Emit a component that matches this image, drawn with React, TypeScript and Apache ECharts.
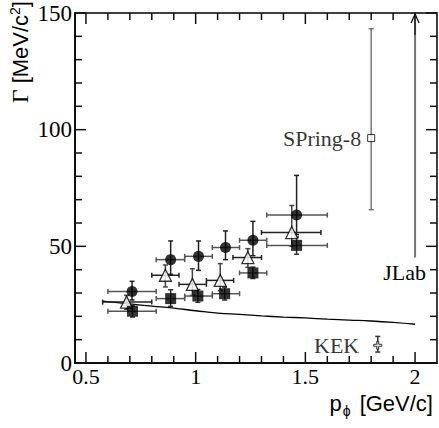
import React, { useEffect, useRef } from "react";
import * as echarts from "echarts";

// Tick values (GeV/c and MeV/c^2)
const xMajorTicks = [0.5, 1, 1.5, 2];
const xMajorLabels = ["0.5", "1", "1.5", "2"];
const xMinorTicks = [0.6, 0.7, 0.8, 0.9, 1.1, 1.2, 1.3, 1.4, 1.6, 1.7, 1.8, 1.9];
const yMajorTicks = [0, 50, 100, 150];
const yMajorLabels = ["0", "50", "100", "150"];
const yMinorTicks = [10, 20, 30, 40, 60, 70, 80, 90, 110, 120, 130, 140];

// Filled circles
const circP = [0.71, 0.886, 1.013, 1.136, 1.261, 1.46];
const circG = [30.6, 44.3, 45.7, 49.5, 52.6, 63.4];
const circPLo = [0.6, 0.82, 0.95, 1.076, 1.2, 1.324];
const circPHi = [0.82, 0.95, 1.076, 1.2, 1.324, 1.6];
const circGLo = [27, 38, 39.7, 44.3, 46, 55];
const circGHi = [35, 52.3, 52.3, 56.6, 60.7, 80.4];

// Open triangles
const triP = [0.685, 0.862, 0.985, 1.112, 1.238, 1.438];
const triG = [26.1, 37.6, 33.7, 35.4, 45.2, 55.9];
const triPLo = [0.576, 0.8, 0.924, 1.049, 1.17, 1.3];
const triPHi = [0.8, 0.924, 1.049, 1.173, 1.3, 1.571];
const triGLo = [23, 32.6, 29, 31, 41, 50];
const triGHi = [29, 42, 40.4, 42.6, 49, 67.5];

// Filled squares
const sqP = [0.712, 0.886, 1.01, 1.132, 1.261, 1.46];
const sqG = [22.2, 27.6, 28.7, 29.7, 38.6, 50.4];
const sqPLo = [0.6, 0.82, 0.95, 1.076, 1.2, 1.324];
const sqPHi = [0.82, 0.95, 1.076, 1.2, 1.324, 1.6];
const sqGLo = [19.7, 24.3, 26, 27, 36.2, 46.6];
const sqGHi = [24.5, 31.4, 31.5, 32.5, 41.1, 54];

// Theory curve
const curveP = [0.575, 0.7, 0.8, 0.9, 1.0, 1.1, 1.2, 1.3, 1.4, 1.5, 1.6, 1.7, 1.8, 1.9, 2.0];
const curveG = [26.5, 25.3, 24.4, 23.5, 22.4, 21.4, 20.8, 20.2, 19.7, 19.3, 18.8, 18.4, 18.0, 17.4, 16.6];

// SPring-8
const sp8P = [1.8];
const sp8G = [96.4];
const sp8GLo = [65.7];
const sp8GHi = [143.3];

// KEK
const kekP = [1.83];
const kekG = [7.6];
const kekGLo = [4.7];
const kekGHi = [11.4];

// JLab lower limit arrow
const jlabP = [2.0];
const jlabGFrom = [45.2];
const jlabGTo = [150];
const jlabLabelPos = [[1.952, 38.6]];

const X_MIN = 0.45, X_MAX = 2.1, Y_MIN = 0, Y_MAX = 150;
const SERIF = "Liberation Serif";
const SANS = "Liberation Sans";
const INK = "#111";

function errorBars(p: number[], g: number[], pLo: number[], pHi: number[], gLo: number[], gHi: number[], hColor: string, vColor: string) {
  return {
    type: "custom",
    silent: true,
    z: 2,
    renderItem: (_params: any, api: any) => {
      const x = api.value(0), y = api.value(1);
      const l = api.coord([api.value(2), y]);
      const r = api.coord([api.value(3), y]);
      const b = api.coord([x, api.value(4)]);
      const t = api.coord([x, api.value(5)]);
      const cap = 2.5;
      const hs = { stroke: hColor, lineWidth: 1.5 };
      const vs = { stroke: vColor, lineWidth: 1.5 };
      const children: any[] = [];
      if (api.value(3) > api.value(2)) {
        children.push(
          { type: "line", shape: { x1: l[0], y1: l[1], x2: r[0], y2: r[1] }, style: hs },
          { type: "line", shape: { x1: l[0], y1: l[1] - cap, x2: l[0], y2: l[1] + cap }, style: hs },
          { type: "line", shape: { x1: r[0], y1: r[1] - cap, x2: r[0], y2: r[1] + cap }, style: hs }
        );
      }
      children.push(
        { type: "line", shape: { x1: b[0], y1: b[1], x2: t[0], y2: t[1] }, style: vs },
        { type: "line", shape: { x1: b[0] - cap, y1: b[1], x2: b[0] + cap, y2: b[1] }, style: vs },
        { type: "line", shape: { x1: t[0] - cap, y1: t[1], x2: t[0] + cap, y2: t[1] }, style: vs }
      );
      return { type: "group", children };
    },
    data: p.map((v, i) => [v, g[i], pLo[i], pHi[i], gLo[i], gHi[i]]),
  };
}

// x ticks on bottom and top, optional label below
function xTickSeries(values: number[], labels: string[] | null, len: number) {
  return {
    type: "custom",
    silent: true,
    z: 3,
    renderItem: (params: any, api: any) => {
      const v = api.value(0);
      const bt = api.coord([v, Y_MIN]);
      const tp = api.coord([v, Y_MAX]);
      const s = { stroke: INK, lineWidth: 1.5 };
      const children: any[] = [
        { type: "line", shape: { x1: tp[0], y1: tp[1], x2: tp[0], y2: tp[1] + len }, style: s },
        { type: "line", shape: { x1: bt[0], y1: bt[1], x2: bt[0], y2: bt[1] - len }, style: s },
      ];
      if (labels) {
        children.push({
          type: "text", x: bt[0], y: bt[1] + 2,
          style: { text: labels[params.dataIndex], fontFamily: SERIF, fontSize: 22, fill: "#000", align: "center", verticalAlign: "top" },
        });
      }
      return { type: "group", children };
    },
    data: values.map((v) => [v, Y_MIN]),
  };
}

// y ticks on left and right, optional label at left
function yTickSeries(values: number[], labels: string[] | null, len: number) {
  return {
    type: "custom",
    silent: true,
    z: 3,
    renderItem: (params: any, api: any) => {
      const v = api.value(1);
      const lf = api.coord([X_MIN, v]);
      const rt = api.coord([X_MAX, v]);
      const s = { stroke: INK, lineWidth: 1.5 };
      const children: any[] = [
        { type: "line", shape: { x1: lf[0], y1: lf[1], x2: lf[0] + len, y2: lf[1] }, style: s },
        { type: "line", shape: { x1: rt[0], y1: rt[1], x2: rt[0] - len, y2: rt[1] }, style: s },
      ];
      if (labels) {
        children.push({
          type: "text", x: lf[0] - 3, y: lf[1],
          style: { text: labels[params.dataIndex], fontFamily: SERIF, fontSize: 23, fill: "#000", align: "right", verticalAlign: "middle" },
        });
      }
      return { type: "group", children };
    },
    data: values.map((v) => [X_MIN, v]),
  };
}

export default function App() {
  const ref = useRef<HTMLDivElement>(null);
  useEffect(() => {
    const chart = echarts.init(ref.current!, null, { renderer: "svg" });
    const option: any = {
      animation: false,
      backgroundColor: "#fff",
      grid: { left: 75, right: 2, top: 13, bottom: 65, show: true, borderColor: "#000", borderWidth: 1.5, backgroundColor: "transparent" },
      xAxis: {
        type: "value", min: X_MIN, max: X_MAX,
        axisLine: { show: true, lineStyle: { color: "#000", width: 1.5 } },
        axisTick: { show: false },
        axisLabel: { show: false },
        splitLine: { show: false },
      },
      yAxis: {
        type: "value", min: Y_MIN, max: Y_MAX, interval: 50,
        axisLine: { show: true, lineStyle: { color: "#000", width: 1.5 } },
        axisTick: { show: false },
        axisLabel: { show: false },
        splitLine: { show: false },
      },
      series: [
        xTickSeries(xMinorTicks, null, 7),
        xTickSeries(xMajorTicks, xMajorLabels, 11),
        yTickSeries(yMinorTicks, null, 7),
        yTickSeries(yMajorTicks, yMajorLabels, 11),
        {
          type: "line",
          data: curveP.map((v, i) => [v, curveG[i]]),
          showSymbol: false,
          smooth: true,
          lineStyle: { color: "#000", width: 1.3 },
          z: 1,
          silent: true,
        },
        errorBars(circP, circG, circPLo, circPHi, circGLo, circGHi, "#555", "#222"),
        errorBars(triP, triG, triPLo, triPHi, triGLo, triGHi, "#222", "#444"),
        errorBars(sqP, sqG, sqPLo, sqPHi, sqGLo, sqGHi, "#555", "#333"),
        errorBars(sp8P, sp8G, sp8P, sp8P, sp8GLo, sp8GHi, "#777", "#777"),
        errorBars(kekP, kekG, kekP, kekP, kekGLo, kekGHi, "#333", "#333"),
        {
          type: "scatter", z: 5, symbol: "circle", symbolSize: 11,
          itemStyle: { color: "#000" },
          data: circP.map((v, i) => [v, circG[i]]),
        },
        {
          type: "scatter", z: 5, symbol: "triangle", symbolSize: 12,
          itemStyle: { color: "#fff", borderColor: "#000", borderWidth: 1.3 },
          data: triP.map((v, i) => [v, triG[i]]),
        },
        {
          type: "scatter", z: 5, symbol: "rect", symbolSize: 11,
          itemStyle: { color: "#000" },
          data: sqP.map((v, i) => [v, sqG[i]]),
        },
        {
          type: "scatter", z: 5, symbol: "rect", symbolSize: 7,
          itemStyle: { color: "#fff", borderColor: "#000", borderWidth: 1 },
          label: { show: true, position: "left", distance: 6, formatter: "SPring-8", fontFamily: SERIF, fontSize: 22, color: "#000" },
          data: sp8P.map((v, i) => [v, sp8G[i]]),
        },
        {
          type: "scatter", z: 5, symbol: "path://M3,0 H5 V3 H8 V5 H5 V8 H3 V5 H0 V3 H3 Z", symbolSize: 8,
          itemStyle: { color: "#fff", borderColor: "#000", borderWidth: 1 },
          label: { show: true, position: "left", distance: 14, formatter: "KEK", fontFamily: SERIF, fontSize: 22, color: "#000" },
          data: kekP.map((v, i) => [v, kekG[i]]),
        },
        {
          type: "custom",
          silent: true,
          z: 4,
          renderItem: (_p: any, api: any) => {
            const a = api.coord([api.value(0), api.value(1)]);
            const b = api.coord([api.value(0), api.value(2)]);
            return {
              type: "group",
              children: [
                { type: "line", shape: { x1: a[0], y1: a[1], x2: b[0], y2: b[1] + 22 }, style: { stroke: "#777", lineWidth: 2 } },
                { type: "line", shape: { x1: b[0], y1: b[1] + 22, x2: b[0], y2: b[1] + 1 }, style: { stroke: "#333", lineWidth: 2 } },
                { type: "polyline", shape: { points: [[b[0] - 4, b[1] + 10], [b[0], b[1] + 1], [b[0] + 4, b[1] + 10]] }, style: { stroke: "#000", lineWidth: 1.2, fill: null } },
              ],
            };
          },
          data: jlabP.map((v, i) => [v, jlabGFrom[i], jlabGTo[i]]),
        },
        {
          type: "custom",
          silent: true,
          z: 4,
          renderItem: (_p: any, api: any) => {
            const c = api.coord([api.value(0), api.value(1)]);
            return {
              type: "text",
              x: c[0], y: c[1],
              style: { text: "JLab", fontFamily: SERIF, fontSize: 22, fill: "#000", align: "center", verticalAlign: "middle" },
            };
          },
          data: jlabLabelPos,
        },
      ],
      graphic: [
        {
          type: "text",
          x: 20, y: 1,
          rotation: Math.PI / 2,
          style: {
            text: "{g|Γ} [MeV/c{s|2}]",
            align: "right",
            verticalAlign: "middle",
            fontFamily: SANS,
            fontSize: 22,
            fill: "#000",
            rich: {
              g: { fontFamily: SERIF, fontSize: 24, fill: "#000", color: "#000" },
              s: { fontFamily: SANS, fontSize: 14, fill: "#000", color: "#000", verticalAlign: "top", padding: [0, 0, 10, 0] },
            },
          },
        },
        {
          type: "text",
          right: 6, top: 392,
          style: {
            text: "p{sub|ϕ} [GeV/c]",
            fontFamily: SANS,
            fontSize: 22,
            fill: "#000",
            rich: {
              sub: { fontFamily: SANS, fontSize: 14, fill: "#000", color: "#000", padding: [16, 3, 0, 1] },
            },
          },
        },
      ],
    };
    chart.setOption(option);
    return () => chart.dispose();
  }, []);
  return <div ref={ref} style={{ position: "absolute", left: 0, top: 0, width: 439, height: 428 }} />;
}
